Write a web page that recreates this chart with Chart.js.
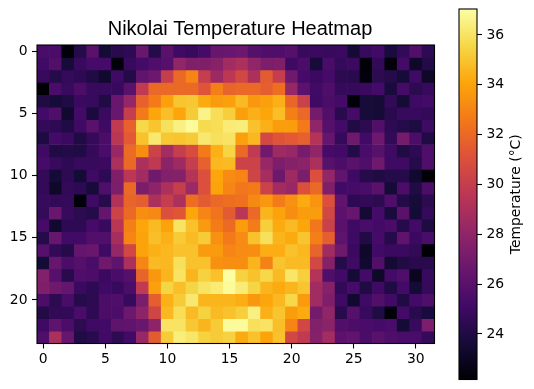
<!DOCTYPE html>
<html>
<head>
<meta charset="utf-8">
<title>Nikolai Temperature Heatmap</title>
<script src="https://cdn.jsdelivr.net/npm/chart.js@4/dist/chart.umd.min.js"></script>
<style>
  html, body { margin: 0; background: #fff; }
  #wrap { position: relative; width: 534px; height: 389px; overflow: hidden; }
  canvas { position: absolute; top: 0; }
  #heatmap { left: 0; }
  #colorbar { left: 440px; }
</style>
</head>
<body>
<div id="wrap">
  <canvas id="heatmap" width="480" height="389"></canvas>
  <canvas id="colorbar" width="94" height="389"></canvas>
</div>
<script>
// Temperatur per rad (rad 0 overst), avlast fran bilden
const row00 = [25.4,25.4,22.3,24.2,26.0,23.6,24.3,24.5,26.6,24.2,26.0,25.0,24.8,25.3,26.5,26.6,26.7,25.8,25.6,25.6,25.8,24.8,24.9,24.8,24.9,23.6,24.8,25.1,23.8,24.6,25.7,24.5];
const row01 = [25.1,25.7,23.7,24.8,25.3,25.3,22.3,24.8,25.2,25.6,25.8,28.0,27.4,27.4,27.7,28.6,29.0,28.0,27.3,27.4,25.0,25.5,23.7,25.4,24.7,24.9,22.3,24.6,22.3,25.2,23.2,24.1];
const row02 = [24.8,24.2,24.7,24.5,24.0,23.4,25.0,24.1,26.3,26.7,30.0,32.0,33.0,30.0,28.4,29.6,30.5,29.0,31.5,30.0,26.8,25.3,24.9,25.3,24.4,24.3,22.4,24.4,24.2,23.7,25.0,23.2];
const row03 = [22.2,25.4,24.8,25.5,24.8,24.8,24.8,26.0,29.8,32.0,32.0,32.0,32.0,31.2,32.8,31.8,32.0,32.0,31.6,32.2,28.2,26.1,25.1,25.6,24.7,24.7,24.9,25.2,23.8,25.3,24.4,24.8];
const row04 = [24.0,23.7,24.0,24.9,24.8,24.0,26.6,28.2,31.7,32.6,33.9,35.0,35.1,34.2,33.7,33.9,34.7,33.6,33.9,34.4,31.9,30.2,25.0,25.5,25.2,22.3,23.7,23.6,24.6,23.6,25.0,25.2];
const row05 = [25.2,25.6,23.4,25.2,23.8,24.9,26.6,30.0,32.6,34.1,34.8,34.1,35.2,36.6,35.8,35.3,33.9,34.4,34.1,34.8,32.8,32.0,27.0,25.7,24.3,25.3,23.7,23.6,24.3,24.8,24.8,24.6];
const row06 = [24.6,24.5,24.0,25.0,26.0,25.0,29.8,31.7,35.6,35.0,35.9,36.5,36.9,35.7,35.8,36.3,36.4,34.9,34.4,33.8,33.8,32.6,28.0,25.8,25.2,24.0,24.4,25.7,24.5,24.2,23.9,25.0];
const row07 = [23.9,25.2,24.9,24.0,24.7,25.5,29.5,31.4,34.9,36.2,35.1,35.0,35.2,36.2,35.9,36.0,33.9,34.6,30.6,31.2,31.4,31.7,29.3,26.4,24.7,26.8,25.1,26.7,24.6,27.0,25.5,24.0];
const row08 = [25.0,24.0,24.1,24.0,24.7,25.4,28.3,32.1,33.3,30.3,28.7,30.0,30.8,32.6,34.4,35.5,32.0,29.8,26.9,28.5,28.3,27.1,28.0,25.3,25.1,24.1,25.4,25.9,25.0,24.0,24.5,25.6];
const row09 = [25.3,24.8,24.5,24.8,24.8,24.9,29.0,32.0,29.0,29.7,27.8,28.5,30.0,31.7,34.6,34.7,30.3,30.3,28.3,27.3,27.6,27.8,29.0,25.9,25.5,26.0,25.6,26.8,25.0,25.0,24.2,25.6];
const row10 = [24.6,23.6,24.5,23.6,25.0,24.5,27.4,29.6,28.6,26.8,27.5,27.6,29.3,31.0,34.1,33.2,33.0,30.4,28.8,26.7,28.5,27.2,31.0,28.1,26.3,25.0,24.2,24.0,24.2,24.2,23.4,22.2];
const row11 = [24.6,23.2,24.6,24.5,23.7,25.6,27.3,32.0,27.2,27.9,29.0,30.0,28.4,31.0,34.0,33.0,32.5,32.6,30.3,28.6,28.3,31.0,32.0,27.4,25.1,25.3,25.4,26.0,23.6,25.5,24.0,25.5];
const row12 = [24.8,24.6,24.7,22.3,25.0,24.3,29.2,31.8,31.6,29.0,30.0,29.0,32.2,31.5,32.0,32.2,32.3,33.1,33.6,32.7,33.4,34.2,33.5,31.0,26.3,24.5,24.6,24.4,25.6,24.1,23.7,24.4];
const row13 = [24.7,26.6,24.8,24.4,24.2,26.4,30.3,32.0,33.3,33.1,31.0,31.3,34.1,33.0,32.4,31.5,29.5,32.0,34.5,34.0,33.3,33.8,33.8,30.5,26.1,26.5,23.5,25.3,23.8,26.0,23.6,24.7];
const row14 = [25.3,23.4,24.5,24.5,25.3,24.8,29.5,32.8,34.1,34.7,34.0,36.0,34.9,33.7,32.7,32.1,33.8,32.7,35.3,34.2,34.7,34.1,32.5,30.2,26.0,25.0,25.4,25.2,25.4,24.2,25.2,23.9];
const row15 = [24.2,26.5,25.1,25.1,25.7,25.7,28.8,33.0,34.0,34.8,34.4,35.2,34.7,35.2,33.4,32.6,33.2,34.9,35.9,34.5,34.2,35.0,32.8,31.6,26.2,25.0,24.0,25.3,24.2,26.2,24.9,25.4];
const row16 = [25.8,24.6,24.2,26.4,26.6,25.0,28.2,30.5,34.0,34.4,34.6,34.9,34.9,33.7,33.7,33.0,33.2,33.3,34.3,34.3,34.9,34.6,31.8,28.6,26.8,24.9,23.2,25.1,24.9,24.9,24.6,22.2];
const row17 = [23.6,26.5,25.5,25.8,25.4,26.8,26.2,29.0,33.0,34.7,34.6,35.9,34.9,34.9,33.4,33.3,33.3,34.5,32.9,35.0,34.7,34.7,30.6,27.6,24.2,25.0,23.4,25.7,23.5,24.0,24.3,24.3];
const row18 = [27.5,25.8,24.3,25.6,25.5,24.9,25.4,25.8,31.8,33.6,34.5,36.0,34.5,35.4,34.9,37.0,35.4,34.9,35.6,34.7,36.1,35.3,29.3,25.6,25.1,23.6,25.2,23.2,25.2,25.6,22.9,24.8];
const row19 = [27.4,26.8,26.4,24.9,24.5,25.0,24.8,25.5,29.8,33.9,35.5,34.8,35.5,36.0,36.3,36.9,36.3,35.5,34.5,34.2,34.5,35.0,28.6,27.6,24.6,25.3,24.0,25.0,24.0,25.2,23.6,24.7];
const row20 = [25.5,24.4,25.4,24.2,24.4,25.5,25.6,24.8,27.2,31.6,34.4,35.2,36.2,34.5,34.5,34.5,34.3,33.6,34.1,34.6,35.6,33.7,28.6,27.4,25.0,23.4,25.0,25.7,25.1,24.0,25.2,25.6];
const row21 = [24.1,24.6,24.6,25.4,24.5,25.5,25.5,26.7,27.9,30.4,34.6,35.8,34.7,35.4,34.7,34.9,35.3,36.5,34.4,35.0,33.8,34.2,27.0,28.0,24.3,25.8,24.8,24.0,22.4,25.2,24.3,23.8];
const row22 = [25.0,26.2,25.5,24.4,25.0,25.1,26.2,26.3,26.6,27.9,36.0,36.0,35.1,34.5,35.2,36.9,36.9,35.9,36.0,34.8,33.0,30.5,27.5,27.8,25.7,25.5,25.4,25.3,25.4,23.6,24.8,27.3];
const row23 = [25.6,29.0,26.5,24.0,24.3,25.1,24.4,25.1,28.3,31.5,35.2,36.4,36.1,35.4,35.2,35.4,34.2,34.9,34.0,34.9,30.5,29.8,27.6,28.7,26.1,26.3,25.4,26.0,25.6,25.4,25.4,24.7];

const rows = [row00,row01,row02,row03,row04,row05,row06,row07,row08,row09,row10,row11,
              row12,row13,row14,row15,row16,row17,row18,row19,row20,row21,row22,row23];

const xTicks = [0, 5, 10, 15, 20, 25, 30];
const yTicks = [0, 5, 10, 15, 20];
const barTicks = [24, 26, 28, 30, 32, 34, 36];

const tempMin = 22.17;
const tempMax = 37.04;

// inferno
const inferno = ['#000004','#160b39','#420a68','#6a176e','#932667','#bc3754','#dd513a','#f37819','#fca50a','#f6d746','#fcffa4'];

function hexToRgb(hex) {
  return [1, 3, 5].map(i => parseInt(hex.slice(i, i + 2), 16));
}

function tempColor(temp) {
  const t = Math.max(0, Math.min(1, (temp - tempMin) / (tempMax - tempMin))) * (inferno.length - 1);
  const i = Math.min(Math.floor(t), inferno.length - 2);
  const a = hexToRgb(inferno[i]);
  const b = hexToRgb(inferno[i + 1]);
  const c = a.map((v, k) => Math.round(v + (b[k] - v) * (t - i)));
  return `rgb(${c[0]}, ${c[1]}, ${c[2]})`;
}

const fontName = '"DejaVu Sans"';

// Skalorna ska inte flytta ritytan for sina etiketter
function noScalePadding(s) {
  s.paddingLeft = 0;
  s.paddingRight = 0;
  s.paddingTop = 0;
  s.paddingBottom = 0;
}

// Ram runt ritytan
const framePlugin = {
  id: 'frame',
  afterDatasetsDraw(chart) {
    const { ctx, chartArea: a } = chart;
    ctx.save();
    ctx.strokeStyle = '#000';
    ctx.lineWidth = 1.1;
    ctx.strokeRect(a.left, a.top, a.right - a.left, a.bottom - a.top);
    ctx.restore();
  }
};

// Rubriken ligger lite till hoger om ritytans mitt, darfor egen ritning
const heatTitlePlugin = {
  id: 'heatTitle',
  afterDraw(chart) {
    const { ctx } = chart;
    ctx.save();
    ctx.font = '20px "Liberation Sans"';
    ctx.fillStyle = '#000';
    ctx.textAlign = 'center';
    ctx.textBaseline = 'alphabetic';
    ctx.fillText('Nikolai Temperature Heatmap', 240, 35);
    ctx.restore();
  }
};

const heatmapChart = new Chart(document.getElementById('heatmap'), {
  type: 'bar',
  data: {
    datasets: rows.map((row, r) => ({
      data: row.map((_, c) => ({ x: c, y: [r - 0.5, r + 0.5] })),
      backgroundColor: row.map(tempColor),
      borderWidth: 0
    }))
  },
  options: {
    responsive: false,
    animation: false,
    grouped: false,
    barPercentage: 1,
    categoryPercentage: 1,
    layout: { padding: { left: 0, right: 45.5, top: 45, bottom: 25.5 } },
    plugins: {
      legend: { display: false },
      tooltip: { enabled: false }
    },
    scales: {
      x: {
        type: 'linear',
        offset: false,
        min: -0.5,
        max: 31.5,
        afterBuildTicks: s => { s.ticks = xTicks.map(v => ({ value: v })); },
        grid: { offset: false, drawOnChartArea: false, tickLength: 5, tickColor: '#000', tickWidth: 1.1 },
        border: { display: false },
        ticks: { color: '#000', font: { family: fontName, size: 13.9 }, maxRotation: 0, padding: 3,
                 callback: v => String(v) },
        afterFit: s => { s.height = 20; noScalePadding(s); }
      },
      y: {
        type: 'linear',
        reverse: true,
        min: -0.5,
        max: 23.5,
        afterBuildTicks: s => { s.ticks = yTicks.map(v => ({ value: v })); },
        grid: { drawOnChartArea: false, tickLength: 5, tickColor: '#000', tickWidth: 1.1 },
        border: { display: false },
        ticks: { color: '#000', font: { family: fontName, size: 13.9 }, padding: 4.5,
                 callback: v => String(v) },
        afterFit: s => { s.width = 37; noScalePadding(s); }
      }
    }
  },
  plugins: [framePlugin, heatTitlePlugin]
});

// Vertikal titel pa fargskalan, lases nerifran och upp
const barTitlePlugin = {
  id: 'barTitle',
  afterDraw(chart) {
    const { ctx, chartArea: a } = chart;
    ctx.save();
    ctx.translate(76, (a.top + a.bottom) / 2);
    ctx.rotate(-Math.PI / 2);
    ctx.font = '13.9px ' + fontName;
    ctx.fillStyle = '#000';
    ctx.textAlign = 'center';
    ctx.textBaseline = 'middle';
    ctx.fillText('Temperature (°C)', 0, 0);
    ctx.restore();
  }
};

const colorbarChart = new Chart(document.getElementById('colorbar'), {
  type: 'bar',
  data: {
    labels: [''],
    datasets: [{
      data: [[tempMin, tempMax]],
      borderWidth: 0,
      backgroundColor: c => {
        const a = c.chart.chartArea;
        if (!a) return inferno[5];
        const g = c.chart.ctx.createLinearGradient(0, a.bottom, 0, a.top);
        inferno.forEach((col, i) => g.addColorStop(i / (inferno.length - 1), col));
        return g;
      }
    }]
  },
  options: {
    responsive: false,
    animation: false,
    barPercentage: 1,
    categoryPercentage: 1,
    layout: { padding: { left: 19, right: 0, top: 9, bottom: 9.5 } },
    plugins: { legend: { display: false }, tooltip: { enabled: false } },
    scales: {
      x: { display: false },
      y: {
        position: 'right',
        min: tempMin,
        max: tempMax,
        afterBuildTicks: s => { s.ticks = barTicks.map(v => ({ value: v })); },
        grid: { drawOnChartArea: false, tickLength: 5, tickColor: '#000', tickWidth: 1.1 },
        border: { display: false },
        ticks: { color: '#000', font: { family: fontName, size: 13.9 }, padding: 4.5,
                 callback: v => String(v) },
        afterFit: s => { s.width = 57; noScalePadding(s); }
      }
    }
  },
  plugins: [framePlugin, barTitlePlugin]
});
</script>
</body>
</html>
